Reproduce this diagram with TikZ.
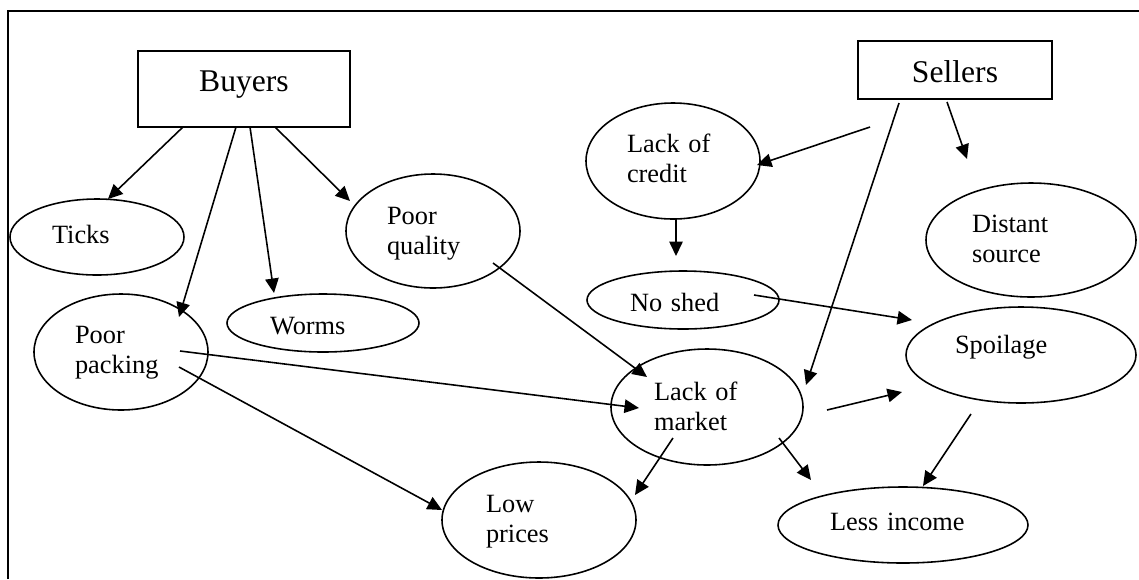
\documentclass[tikz,border=0pt]{standalone}
\usepackage{fontspec}
\setmainfont{Liberation Serif}
\usetikzlibrary{shapes.geometric,arrows.meta,calc}
\newdimen\pxu
\pxu=0.02cm
\begin{document}
\begin{tikzpicture}[x=0.02cm,y=-0.02cm,
  every node/.style={inner sep=0pt, font=\fontsize{15pt}{17.6pt}\selectfont},
  ell/.style={ellipse, draw, line width=0.9pt, align=left},
  E/.style n args={5}{minimum width=#1\pxu, minimum height=#2\pxu, text width=#3\pxu, text height=#4\pxu, text depth=#5\pxu},
  boxnode/.style={rectangle, draw, line width=0.9pt, font=\fontsize{18pt}{21pt}\selectfont},
  arr/.style={line width=0.9pt, -{Triangle[length=0.29cm,width=0.27cm]}},
  frameline/.style={line width=1.3pt}]
\useasboundingbox (0,0) rectangle (1139,579);
\draw[frameline] (8,579) -- (8,11) -- (1139,11);

\node[boxnode, minimum width=212\pxu, minimum height=76\pxu, text height=22\pxu, text depth=18\pxu] (buyers) at (244,89) {Buyers};
\node[boxnode, minimum width=194\pxu, minimum height=58\pxu, text height=30\pxu, text depth=6\pxu] (sellers) at (955,70) {Sellers};

\node[ell, E={174}{76}{90}{26}{14}] (ticks) at (97,237) {Ticks};
\node[ell, E={192}{58}{106}{31}{9}] (worms) at (323,323) {Worms};
\node[ell, E={174}{114}{92}{13}{27}] (quality) at (433,231) {Poor\\quality};
\node[ell, E={174}{116}{92}{11}{29}] (packing) at (121,352) {Poor\\packing};
\node[ell, E={174}{116}{92}{11}{29}] (credit) at (673,161) {Lack of\\credit};
\node[ell, E={192}{58}{106}{31}{9}] (shed) at (683,300) {No shed};
\node[ell, E={192}{116}{106}{13}{27}] (market) at (707,407) {Lack of\\market};
\node[ell, E={194}{116}{106}{12}{28}] (prices) at (539,520) {Low\\prices};
\node[ell, E={250}{76}{146}{25}{15}] (income) at (903,525) {Less income};
\node[ell, E={210}{114}{118}{12}{28}] (source) at (1031,240) {Distant\\source};
\node[ell, E={230}{96}{132}{18}{22}] (spoil) at (1021,355) {Spoilage};

\draw[arr] ($(buyers.center)+(-61,38)$) -- ($(ticks.center)+(11,-38)$);
\draw[arr] ($(buyers.center)+(-8,38)$) -- ($(packing.center)+(58,-35)$);
\draw[arr] ($(buyers.center)+(6,38)$) -- ($(worms.center)+(-49,-30)$);
\draw[arr] ($(buyers.center)+(31,38)$) -- ($(quality.center)+(-83,-30)$);
\draw[arr] ($(quality.center)+(60,32)$) -- ($(market.center)+(-60,-30)$);
\draw[arr] ($(packing.center)+(59,-1)$) -- ($(market.center)+(-68,1)$);
\draw[arr] ($(packing.center)+(58,15)$) -- ($(prices.center)+(-97,-10)$);
\draw[arr] ($(sellers.center)+(-85,57)$) -- ($(credit.center)+(84,4)$);
\draw[arr] ($(sellers.center)+(-8,32)$) -- ($(source.center)+(-64,-81)$);
\draw[arr] ($(sellers.center)+(-56,33)$) -- ($(market.center)+(99,-22)$);
\draw[arr] ($(credit.center)+(3,57)$) -- ($(shed.center)+(-7,-44)$);
\draw[arr] ($(shed.center)+(71,-5)$) -- ($(spoil.center)+(-109,-35)$);
\draw[arr] ($(market.center)+(120,3)$) -- ($(spoil.center)+(-119,37)$);
\draw[arr] ($(market.center)+(-34,31)$) -- ($(prices.center)+(96,-25)$);
\draw[arr] ($(market.center)+(72,31)$) -- ($(income.center)+(-92,-45)$);
\draw[arr] ($(spoil.center)+(-50,59)$) -- ($(income.center)+(20,-39)$);
\end{tikzpicture}
\end{document}
